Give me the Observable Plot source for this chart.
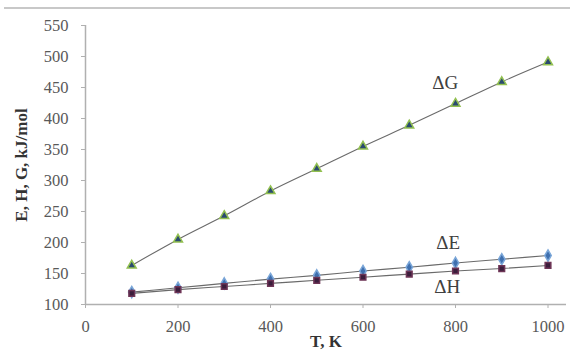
<!DOCTYPE html>
<html>
<head>
<meta charset="utf-8">
<script src="https://cdn.jsdelivr.net/npm/d3@7"></script>
<script src="https://cdn.jsdelivr.net/npm/@observablehq/plot@0.6"></script>
<style>
  html, body { margin: 0; padding: 0; background: #fff; }
  #wrap { position: relative; width: 570px; height: 356px; overflow: hidden; }
  #topline { position: absolute; left: 4px; right: 0; top: 7px; height: 0; border-top: 2px solid #c8c8c8; }
</style>
</head>
<body>
<div id="wrap"><div id="topline"></div></div>
<script>
// Data
const temperature = [100, 200, 300, 400, 500, 600, 700, 800, 900, 1000];
const deltaG = [163, 205, 243, 283, 319, 355, 389, 424, 459, 491];
const deltaE = [120, 127, 134, 141, 147, 154, 160, 167, 173, 179];
const deltaH = [118, 124, 129, 134, 139, 144, 149, 154, 158, 163];
const seriesNames = ["ΔG", "ΔE", "ΔH"];
const xTicks = [0, 200, 400, 600, 800, 1000];
const yTicks = [100, 150, 200, 250, 300, 350, 400, 450, 500, 550];
const xTitle = "T, K";
const yTitle = "E, H, G, kJ/mol";
// Series label annotations (data coordinates)
const labelT = [778, 784, 782];
const labelV = [458, 200, 129];

const seriesValues = [deltaG, deltaE, deltaH];
const rows = seriesNames.flatMap((s, i) => temperature.map((t, j) => ({series: s, T: t, v: seriesValues[i][j]})));
const labels = seriesNames.map((s, i) => ({series: s, T: labelT[i], v: labelV[i]}));

const markerStyle = {
  "ΔG": {symbol: "triangle", fill: "#2a4a70", stroke: "#92c050", r: 3.3},
  "ΔE": {symbol: "diamond", fill: "#3f6fae", stroke: "#7aa6d8", r: 3.4},
  "ΔH": {symbol: "square", fill: "#3b1d3c", stroke: "#6e3556", r: 3.2}
};

const axisColor = "#b0b0b0";
const textColor = "#595959";
const yDomain = [100, 550];

const chart = Plot.plot({
  width: 570,
  height: 356,
  marginLeft: 85,
  marginRight: 4,
  marginTop: 25,
  marginBottom: 52,
  x: {domain: [0, 1040]},
  y: {domain: yDomain},
  style: {fontFamily: "'Liberation Serif', 'DejaVu Serif', serif", fontSize: "16.5px", color: textColor, background: "transparent"},
  marks: [
    Plot.ruleX([0], {y1: 100, y2: 550, stroke: axisColor, strokeWidth: 1.5}),
    Plot.ruleY([100], {x1: 0, x2: 1040, stroke: axisColor, strokeWidth: 1.5}),
    Plot.axisY({ticks: yTicks, tickFormat: d => String(d), tickSize: 4, tickPadding: 13, label: null, stroke: axisColor, fill: textColor}),
    Plot.axisX({ticks: xTicks, tickFormat: d => String(d), tickSize: 4, tickPadding: 12, label: null, stroke: axisColor, fill: textColor}),
    ...seriesNames.map(s => Plot.line(rows.filter(d => d.series === s), {x: "T", y: "v", stroke: "#6a6a6a", strokeWidth: 1.1, curve: "monotone-x"})),
    ...seriesNames.map(s => Plot.dot(rows.filter(d => d.series === s), {
      x: "T", y: "v",
      symbol: () => markerStyle[s].symbol,
      fill: markerStyle[s].fill,
      stroke: markerStyle[s].stroke,
      strokeWidth: 1.5,
      r: markerStyle[s].r
    })),
    Plot.text(labels, {x: "T", y: "v", text: "series", fontSize: 19, fill: "#404040"}),
    Plot.text([yTitle], {frameAnchor: "left", y: () => (yDomain[0] + yDomain[1]) / 2, rotate: -90, textAnchor: "middle", dx: -64, fontWeight: "bold", fontSize: 17, fill: "#333"}),
    Plot.text([xTitle], {frameAnchor: "bottom", dy: 42, fontWeight: "bold", fontSize: 17, fill: "#333"})
  ]
});
document.getElementById("wrap").appendChild(chart);
chart.style.position = "absolute";
chart.style.left = "0";
chart.style.top = "0";
</script>
</body>
</html>
